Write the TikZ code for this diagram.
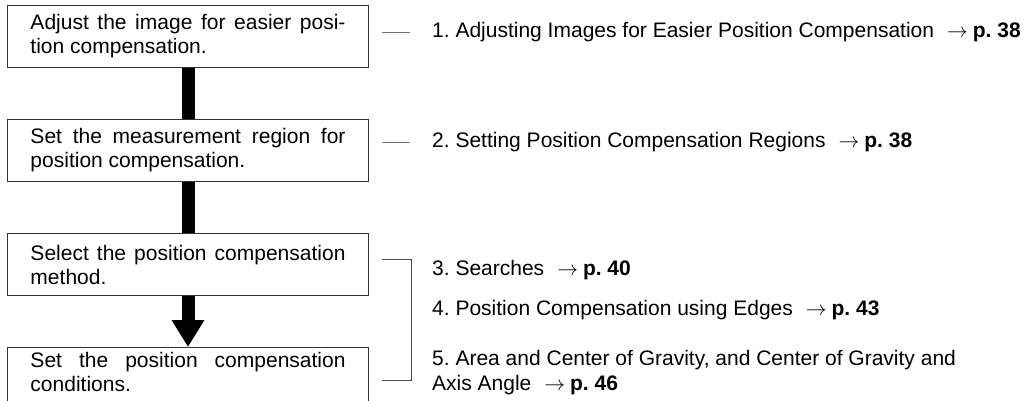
\documentclass[tikz,border=0pt]{standalone}
\usepackage{fontspec}
\setmainfont{Liberation Sans}
\usetikzlibrary{positioning,arrows.meta}

\frenchspacing
\newcommand{\seepage}[1]{\hspace{13pt}$\rightarrow$\hspace{5pt}\textbf{p.~#1}}

\begin{document}
\begin{tikzpicture}[
x=1pt,y=1pt,
node distance=51pt,
stepbox/.style={draw=black!80,line width=1pt,text width=315pt,
inner xsep=23pt,inner ysep=0pt,minimum height=62pt,align=justify,
font=\fontsize{21}{24}\selectfont},
reftext/.style={inner sep=0pt,anchor=base west,align=left,
font=\fontsize{21}{25}\selectfont},
bar/.style={line width=13pt},
tick/.style={draw=black!55,line width=1pt},
bracket/.style={draw=black!70,line width=1pt}]

\useasboundingbox (0,0) rectangle (1034,-401);

% steps
\node (s1) [stepbox,anchor=north west] at (7,-5) {Adjust the image for easier posi-\linebreak tion compensation.};

\node (s2) [stepbox,below=of s1] {Set the measurement region for\linebreak position compensation.};

\node (s3) [stepbox,below=of s2] {Select the position compensation\linebreak method.};

\node (s4) [stepbox,below=of s3,text depth=38pt] {Set the position compensation\linebreak conditions.};

\draw[bar] (s1)--(s2);
\draw[bar] (s2)--(s3);
\draw[bar,-{Triangle[width=31pt,length=27pt]}] (s3)--(s4);

% references
\node (r1) [reftext] at (432,-38) {1. Adjusting Images for Easier Position Compensation\seepage{38}};

\node (r2) [reftext] at (432,-148) {2. Setting Position Compensation Regions\seepage{38}};

\node (r3) [reftext] at (432,-275) {3. Searches\seepage{40}};

\node (r4) [reftext] at (432,-315) {4. Position Compensation using Edges\seepage{43}};

\node (r5) [reftext] at (432,-390) {5. Area and Center of Gravity, and Center of Gravity and\\
Axis Angle\seepage{46}};

\draw[tick] ([xshift=-50pt]r1.west)--([xshift=-22pt]r1.west);
\draw[tick] ([xshift=-50pt]r2.west)--([xshift=-22pt]r2.west);
\draw[bracket] ([xshift=13pt,yshift=5pt]s3.east) -- ++(29,0)
  |- ([xshift=13pt,yshift=-2pt]s4.east);

\end{tikzpicture}
\end{document}
